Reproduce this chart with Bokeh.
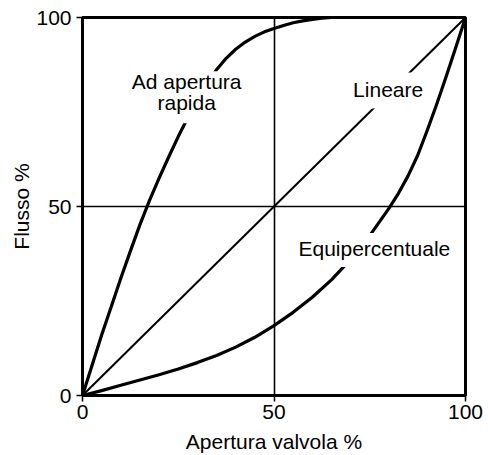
from bokeh.plotting import figure
from bokeh.models import FixedTicker, Range1d, ColumnDataSource
from bokeh.core.properties import value
from bokeh.embed import file_html
from bokeh.resources import INLINE

# ---- data ----
ticks = [0, 50, 100]
grid_ticks = [50]

quick_x = [0, 2.5, 5, 7.5, 10, 12.5, 15, 17.5, 20, 22.5, 25, 27.5, 30, 32.5, 35, 37.5, 40,
           42.5, 45, 47.5, 50, 52.5, 55, 57.5, 60, 62.5, 65, 70, 80, 90, 100]
quick_y = [0, 8, 16, 23.5, 31, 38.2, 45.2, 51.6, 57.5, 63.1, 68.5, 73.5, 78.2, 82.45, 86.2, 89.2, 91.6,
           93.5, 95.0, 96.2, 97.1, 97.9, 98.6, 99.1, 99.5, 99.8, 100, 100, 100, 100, 100]

linear_x = [0, 100]
linear_y = [0, 100]

eq_x = [0, 5, 10, 15, 20, 25, 30, 35, 40, 45, 50, 55, 60, 65, 70, 75, 80, 82.5, 85, 87.5,
        90, 92.5, 95, 97.5, 100]
eq_y = [0, 1.3, 2.7, 4.1, 5.5, 7.0, 8.7, 10.6, 12.8, 15.4, 18.5, 22.0, 26.0, 30.6, 36.0, 42.3,
        49.5, 53.5, 58.1, 63.5, 70.1, 77.1, 84.5, 92.2, 100]

label_texts = ["Ad apertura", "rapida", "Lineare", "Equipercentuale"]
label_x = [27.2, 27.2, 79.8, 76.2]
label_y = [83.1, 77.5, 81.0, 39.0]

# white boxes behind the labels (the curves are interrupted there)
mask_x = [27.2, 79.8, 76.2]
mask_y = [78.9, 80.7, 38.5]
mask_w = [118, 78, 170]
mask_h = [52, 36, 34]

FONT = "Liberation Sans"
FS = "21px"

p = figure(width=488, height=455, output_backend="svg", toolbar_location=None,
           x_range=Range1d(0, 100), y_range=Range1d(0, 100),
           min_border_left=82, min_border_right=23, min_border_top=17, min_border_bottom=59)

p.outline_line_color = "black"
p.outline_line_width = 3
p.background_fill_color = "white"
p.border_fill_color = "white"

for ax in (p.xaxis[0], p.yaxis[0]):
    ax.ticker = FixedTicker(ticks=ticks)
    ax.minor_tick_line_color = None
    ax.major_tick_out = 6
    ax.major_tick_in = 0
    ax.major_tick_line_width = 1.5
    ax.major_tick_line_color = "black"
    ax.axis_line_width = 3
    ax.axis_line_color = "black"
    ax.major_label_text_font = FONT
    ax.major_label_text_font_size = FS
    ax.major_label_text_color = "black"
    ax.axis_label_text_font = FONT
    ax.axis_label_text_font_size = FS
    ax.axis_label_text_font_style = "normal"
    ax.axis_label_text_color = "black"

p.xaxis.axis_label = "Apertura valvola %"
p.yaxis.axis_label = "Flusso %"
p.xaxis.major_label_standoff = 3
p.yaxis.major_label_standoff = 5
p.xaxis.axis_label_standoff = 8
p.yaxis.axis_label_standoff = 0

p.xgrid.ticker = FixedTicker(ticks=grid_ticks)
p.ygrid.ticker = FixedTicker(ticks=grid_ticks)
p.grid.grid_line_color = "black"
p.grid.grid_line_width = 1.6
p.grid.grid_line_alpha = 1.0

p.line(linear_x, linear_y, line_color="black", line_width=2)
p.line(quick_x, quick_y, line_color="black", line_width=3.2, line_join="round")
p.line(eq_x, eq_y, line_color="black", line_width=3.2, line_join="round")

p.rect(x=mask_x, y=mask_y, width=mask_w, height=mask_h, width_units="screen",
       height_units="screen", fill_color="white", line_color=None)

src = ColumnDataSource(dict(x=label_x, y=label_y, t=label_texts))
p.text(x="x", y="y", text="t", source=src, text_align="center", text_baseline="alphabetic",
       text_font=value(FONT), text_font_size=value(FS), text_color="black")

open("out.html", "w").write(file_html(p, INLINE))
